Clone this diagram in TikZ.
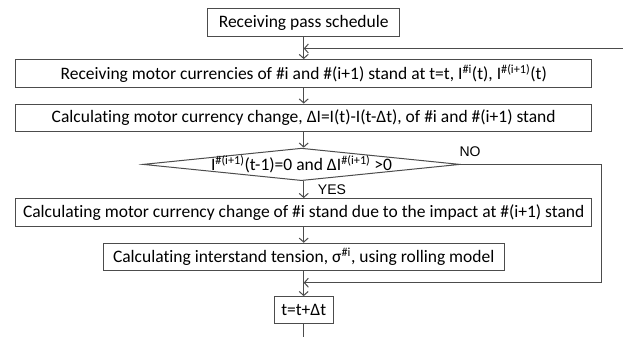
\documentclass[tikz,border=0pt]{standalone}
\usepackage{fontspec}
\setmainfont{Carlito}[Ligatures=NoCommon]
\newfontfamily\arialfont{Liberation Sans}
\usetikzlibrary{shapes.geometric,arrows.meta}

\begin{document}
\begin{tikzpicture}[x=1pt,y=-1pt,
  font=\fontsize{17.5}{20}\selectfont,
  box/.style={draw=black!70,line width=1pt,inner sep=0pt,minimum height=27.5pt},
  cond/.style={diamond,draw=black!70,line width=1pt,inner sep=0pt,
               minimum width=317pt,minimum height=32.5pt},
  flow/.style={draw=black!70,line width=1pt,-{Straight Barb[length=4pt,width=9pt]}},
  ans/.style={font=\arialfont\fontsize{14}{16}\selectfont,inner sep=0pt}]
  \useasboundingbox (0,0) rectangle (623,337);

  % boxes down the main axis
  \node[box,minimum width=192pt] (sched) at (303.7,22.6) {Receiving pass schedule};
  \node[box,minimum width=576pt] (recv) at (303.7,73.3)
    {Receiving motor currencies of \#i and \#(i+1) stand at t=t, I\textsuperscript{\#i}(t), I\textsuperscript{\#(i+1)}(t)};
  \node[box,minimum width=576pt] (calc) at (303.7,117.8)
    {Calculating motor currency change, ΔI=I(t)-I(t-Δt), of \#i and \#(i+1) stand};
  \node[cond,label=center:{I\textsuperscript{\#(i+1)}(t-1)=0 and ΔI\textsuperscript{\#(i+1)} >0}] (test) at (301.5,164.4) {};
  \node[box,minimum width=576pt] (impact) at (303.7,212.3)
    {Calculating motor currency change of \#i stand due to the impact at \#(i+1) stand};
  \node[box,minimum width=400.7pt] (tension) at (303.7,257)
    {Calculating interstand tension, σ\textsuperscript{\#i}, using rolling model};
  \node[box,minimum width=59.3pt,minimum height=26.7pt] (tick) at (303.7,310) {t=t+Δt};

  \node[ans] (yes) at (332,190) {YES};
  \node[ans] (no) at (470,152) {NO};

  \coordinate (back) at (623,48.5);
  \coordinate (rside) at (601.7,164.4);
  \coordinate (join) at (303.7,282.7);
  \coordinate (out) at (303.7,337);

  \draw[flow] (sched) -- (recv);
  \draw[flow] (back) -- (back -| sched.south);
  \draw[flow] (recv) -- (calc);
  \draw[flow] (calc.south) -- (calc.south |- test.north);
  \draw[flow] (impact.north |- test.south) -- (impact.north);
  \draw[flow] (impact) -- (tension);
  \draw[flow] (tension) -- (tick);
  \draw[flow] (test.east) -- (rside) -- (rside |- join) -- (join);
  \draw[draw=black!70,line width=1pt] (tick) -- (out);
\end{tikzpicture}
\end{document}
